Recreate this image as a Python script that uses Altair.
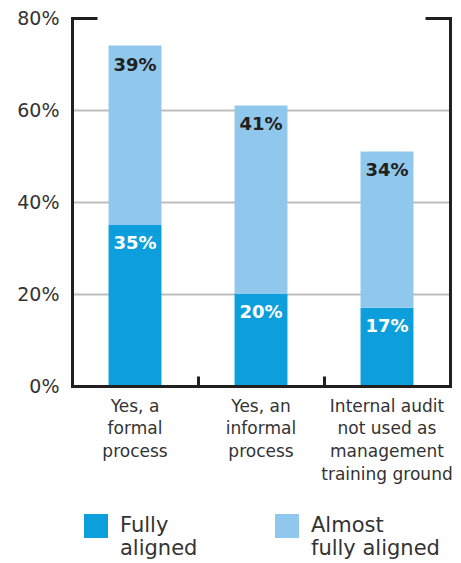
import altair as alt
import pandas as pd

categories = [
    "Yes, a\nformal\nprocess",
    "Yes, an\ninformal\nprocess",
    "Internal audit\nnot used as\nmanagement\ntraining ground",
]
series = ["Fully aligned", "Almost fully aligned"]
fully = [35, 20, 17]
almost = [39, 41, 34]
colors = ["#0d9fdb", "#8fc8ec"]
y_ticks = [0, 20, 40, 60, 80]

rows = []
for c, f, a in zip(categories, fully, almost):
    rows.append(dict(category=c, series=series[0], lo=0, hi=f, value=f))
    rows.append(dict(category=c, series=series[1], lo=f, hi=f + a, value=a))
df = pd.DataFrame(rows)
df["text"] = df["value"].astype(str) + "%"

W, H = 378, 368
FONT = "DejaVu Sans"
INK = "#231f20"
TXT = "#333333"

x_scale = alt.Scale(domain=categories, paddingInner=0, paddingOuter=0)
y_scale = alt.Scale(domain=[0, 80], nice=False)

bars = alt.Chart(df).mark_bar(width={"band": 0.42}).encode(
    x=alt.X(
        "category:N", scale=x_scale, sort=categories,
        axis=alt.Axis(
            title=None, orient="bottom", labelAngle=0,
            labelExpr="split(datum.label, '\\n')",
            labelFont=FONT, labelFontSize=17, labelColor=TXT,
            labelLineHeight=22.7, labelPadding=12, labelLimit=0,
            ticks=False, domainColor=INK, domainWidth=3, domainCap="square",
            zindex=1,
        ),
    ),
    y=alt.Y(
        "lo:Q", scale=y_scale,
        axis=alt.Axis(
            title=None, orient="left", values=y_ticks,
            labelExpr="datum.value + '%'",
            labelFont=FONT, labelFontSize=19, labelColor=TXT, labelPadding=13,
            ticks=False, grid=True, gridWidth=2,
            gridColor={"condition": {"test": "datum.value >= 80", "value": "transparent"},
                       "value": "#bdbdbd"},
            domainColor=INK, domainWidth=3, domainCap="square", zindex=0,
        ),
    ),
    y2="hi:Q",
    color=alt.Color(
        "series:N", scale=alt.Scale(domain=series, range=colors),
        legend=alt.Legend(
            title=None, orient="none", legendX=12, legendY=496,
            direction="horizontal", columns=2, columnPadding=77, padding=0,
            symbolType="square", symbolSize=576, symbolStrokeWidth=0,
            labelFont=FONT, labelFontSize=21, labelColor=TXT,
            labelOffset=12, labelBaseline="middle", labelLimit=0,
            labelExpr="[slice(datum.label, 0, indexof(datum.label, ' ')), slice(datum.label, indexof(datum.label, ' ') + 1)]",
        ),
    ),
)

dark_labels = alt.Chart(df).transform_filter(
    alt.datum.series == series[1]
).mark_text(font=FONT, fontSize=18, fontWeight="bold", color=INK, baseline="middle", dy=20).encode(
    x=alt.X(
        "category:N", scale=x_scale, sort=categories,
        axis=alt.Axis(
            title=None, orient="top", offset=-H, bandPosition=0,
            labels=False, domain=False, ticks=True,
            tickSize=10, tickWidth=3, tickColor=INK, zindex=1,
        ),
    ),
    y=alt.Y(
        "hi:Q", scale=y_scale,
        axis=alt.Axis(
            title=None, orient="right", offset=-W, values=[80],
            labels=False, grid=False, ticks=True, tickSize=25, tickWidth=3,
            tickColor=INK, domainColor=INK, domainWidth=3, domainCap="square", zindex=1,
        ),
    ),
    text="text:N",
)

light_labels = alt.Chart(df).transform_filter(
    alt.datum.series == series[0]
).mark_text(font=FONT, fontSize=18, fontWeight="bold", color="white", baseline="middle", dy=19).encode(
    x=alt.X("category:N", scale=x_scale, sort=categories, axis=None),
    y=alt.Y(
        "hi:Q", scale=y_scale,
        axis=alt.Axis(
            title=None, orient="left", offset=-W, values=[80],
            labels=False, grid=False, ticks=True, tickSize=25, tickWidth=3,
            tickColor=INK, domainColor=INK, domainWidth=3, domainCap="square", zindex=1,
        ),
    ),
    text="text:N",
)

chart = alt.layer(bars, dark_labels, light_labels).resolve_axis(
    x="independent", y="independent"
).properties(
    width=W, height=H,
    autosize=alt.AutoSizeParams(type="none"),
    padding={"left": 64, "top": 10, "right": 3, "bottom": 176},
).configure_view(stroke=None)

chart.save("out.html", embed_options={"renderer": "svg", "actions": False})
